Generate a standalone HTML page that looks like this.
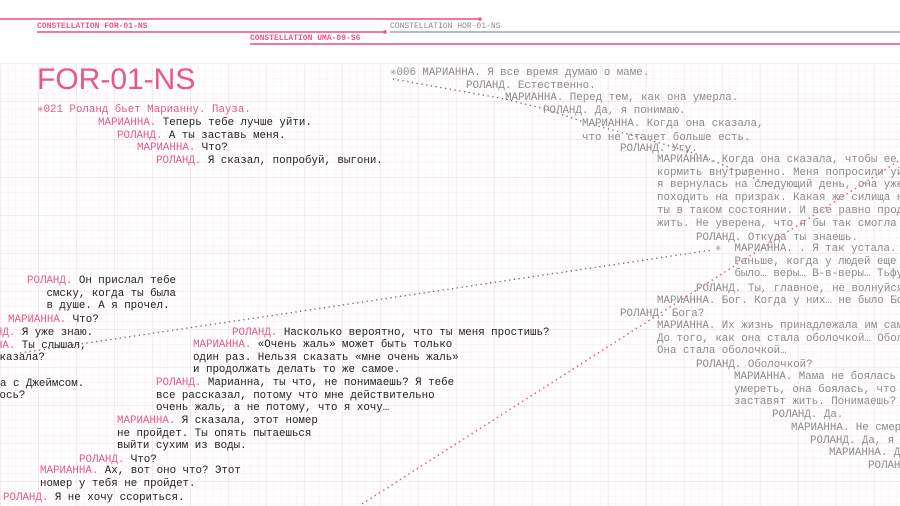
<!DOCTYPE html>
<html><head><meta charset="utf-8"><style>
body{margin:0;width:900px;height:506px;overflow:hidden;background:#fff;position:relative;font-family:"Liberation Mono","DejaVu Sans Mono",monospace;}
.grid{position:absolute;left:0;top:63px;width:900px;height:443px;
background-image:linear-gradient(to right,rgba(230,170,190,.16) 1px,transparent 1px),linear-gradient(to bottom,rgba(230,170,190,.16) 1px,transparent 1px),linear-gradient(to right,rgba(230,170,190,.12) 1px,transparent 1px),linear-gradient(to bottom,rgba(230,170,190,.12) 1px,transparent 1px);
background-size:38px 38px,38px 38px,7.6px 7.6px,7.6px 7.6px;}
.t{position:absolute;font-size:10.8px;line-height:14px;white-space:pre;color:#222;}
.p{color:#e8578a}
.g{color:#8a8a8a}
.lab{position:absolute;font-size:8px;font-weight:bold;white-space:pre;line-height:10px;}
.ln{position:absolute;height:1.5px;}
</style></head><body>
<div class="grid"></div>
<div class="ln" style="left:0;top:18px;width:480px;background:#ee7aa0"></div>
<div class="ln" style="left:37px;top:31px;width:348px;background:#ee7aa0"></div>
<div class="ln" style="left:390px;top:31px;width:510px;background:#bbb"></div>
<div class="ln" style="left:250px;top:43px;width:650px;background:#ee7aa0"></div>
<div class="lab" style="left:37px;top:22px;color:#e8578a">CONSTELLATION FOR-01-NS</div>
<div class="lab" style="left:390px;top:22px;color:#8a8a8a;font-weight:normal">CONSTELLATION HOR-01-NS</div>
<div class="lab" style="left:250px;top:34px;color:#e8578a">CONSTELLATION UMA-09-S6</div>
<svg style="position:absolute;left:0;top:0" width="900" height="506">
<circle cx="480" cy="19" r="1.8" fill="#e8578a"/>
<circle cx="385" cy="32" r="1.8" fill="#e8578a"/>
<polyline points="393,79 505,99 545,109 590,124 650,140 700,155 770,185" fill="none" stroke="#666" stroke-width="1.3" stroke-dasharray="1.3 3.5"/>
<line x1="20" y1="353" x2="712" y2="250" stroke="#666" stroke-width="1.3" stroke-dasharray="1.3 3.5"/>
<line x1="362" y1="504" x2="900" y2="160" stroke="#e8578a" stroke-width="1.5" stroke-dasharray="1.5 3.5"/>
</svg>
<div style="position:absolute;left:37px;top:62px;font-family:'Liberation Sans',sans-serif;font-size:30px;line-height:36px;color:#e8578a;letter-spacing:0px">FOR-01-NS</div>
<div class="t p" style="left:37px;top:103px">✳021 Роланд бьет Марианну. Пауза.</div>
<div class="t" style="left:98px;top:116px"><span class="p">МАРИАННА.</span> Теперь тебе лучше уйти.</div>
<div class="t" style="left:117px;top:129px"><span class="p">РОЛАНД.</span> А ты заставь меня.</div>
<div class="t" style="left:137px;top:141px"><span class="p">МАРИАННА.</span> Что?</div>
<div class="t" style="left:156px;top:154px"><span class="p">РОЛАНД.</span> Я сказал, попробуй, выгони.</div>

<div class="t g" style="left:390px;top:66px">✳006 МАРИАННА. Я все время думаю о маме.</div>
<div class="t g" style="left:466px;top:79px">РОЛАНД. Естественно.</div>
<div class="t g" style="left:505px;top:91px">МАРИАННА. Перед тем, как она умерла.</div>
<div class="t g" style="left:543px;top:104px">РОЛАНД. Да, я понимаю.</div>
<div class="t g" style="left:582px;top:117px">МАРИАННА. Когда она сказала,
что не станет больше есть.</div>
<div class="t g" style="left:620px;top:142px">РОЛАНД. Угу.</div>
<div class="t g" style="left:657px;top:154px;line-height:12.7px">МАРИАННА. Когда она сказала, чтобы ее
кормить внутривенно. Меня попросили уйти
я вернулась на следующий день, она уже
походить на призрак. Какая же силища н
ты в таком состоянии. И все равно прод
жить. Не уверена, что я бы так смогла</div>
<div class="t g" style="left:696px;top:231px">РОЛАНД. Откуда ты знаешь.</div>
<div class="t g" style="left:715px;top:243px;line-height:12.7px">✳  МАРИАННА. . Я так устала.
   Раньше, когда у людей еще
   было… веры… В-в-веры… Тьфу</div>
<div class="t g" style="left:696px;top:282px">РОЛАНД. Ты, главное, не волнуйся</div>
<div class="t g" style="left:657px;top:294px">МАРИАННА. Бог. Когда у них… не было Бога</div>
<div class="t g" style="left:620px;top:307px">РОЛАНД. Бога?</div>
<div class="t g" style="left:657px;top:320px;line-height:12.7px">МАРИАННА. Их жизнь принадлежала им сам
До того, как она стала оболочкой… Обол
Она стала оболочкой…</div>
<div class="t g" style="left:696px;top:358px">РОЛАНД. Оболочкой?</div>
<div class="t g" style="left:734px;top:371px;line-height:12.7px">МАРИАННА. Мама не боялась
умереть, она боялась, что
заставят жить. Понимаешь?</div>
<div class="t g" style="left:772px;top:408px">РОЛАНД. Да.</div>
<div class="t g" style="left:791px;top:421px">МАРИАННА. Не смерт</div>
<div class="t g" style="left:810px;top:434px">РОЛАНД. Да, я</div>
<div class="t g" style="left:829px;top:446px">МАРИАННА. Д</div>
<div class="t g" style="left:868px;top:459px">РОЛАНД</div>

<div class="t" style="left:27px;top:275px;line-height:12.7px"><span class="p">РОЛАНД.</span> Он прислал тебе
   смску, когда ты была
   в душе. А я прочел.</div>
<div class="t" style="left:8px;top:313px"><span class="p">МАРИАННА.</span> Что?</div>
<div class="t" style="left:-30px;top:326px"><span class="p">РОЛАНД.</span> Я уже знаю.</div>
<div class="t" style="left:-43px;top:339px"><span class="p">МАРИАННА.</span> Ты слышал,</div>
<div class="t" style="left:-7px;top:351px">сказала?</div>
<div class="t" style="left:0px;top:377px">а с Джеймсом.</div>
<div class="t" style="left:-7px;top:389px">лось?</div>
<div class="t" style="left:232px;top:326px"><span class="p">РОЛАНД.</span> Насколько вероятно, что ты меня простишь?</div>
<div class="t" style="left:193px;top:339px;line-height:12.7px"><span class="p">МАРИАННА.</span> «Очень жаль» может быть только
один раз. Нельзя сказать «мне очень жаль»
и продолжать делать то же самое.</div>
<div class="t" style="left:156px;top:377px;line-height:12.7px"><span class="p">РОЛАНД.</span> Марианна, ты что, не понимаешь? Я тебе
все рассказал, потому что мне действительно
очень жаль, а не потому, что я хочу…</div>
<div class="t" style="left:117px;top:415px;line-height:12.7px"><span class="p">МАРИАННА.</span> Я сказала, этот номер
не пройдет. Ты опять пытаешься
выйти сухим из воды.</div>
<div class="t" style="left:79px;top:453px"><span class="p">РОЛАНД.</span> Что?</div>
<div class="t" style="left:40px;top:465px;line-height:12.7px"><span class="p">МАРИАННА.</span> Ах, вот оно что? Этот
номер у тебя не пройдет.</div>
<div class="t" style="left:3px;top:491px"><span class="p">РОЛАНД.</span> Я не хочу ссориться.</div>
</body></html>
